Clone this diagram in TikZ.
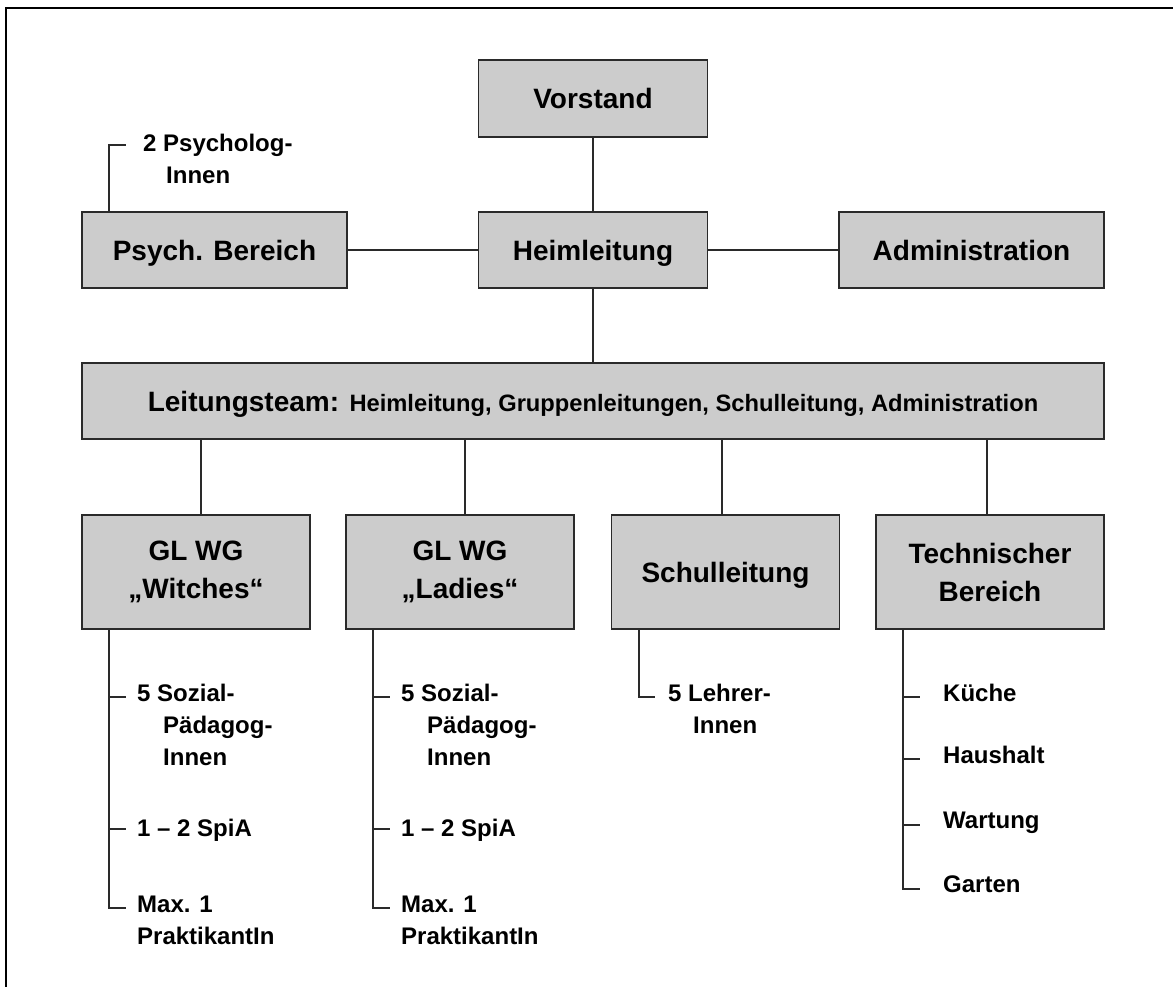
\documentclass[tikz,border=0pt]{standalone}
\usepackage{fontspec}
\setmainfont{Liberation Sans}
\definecolor{boxgray}{HTML}{CCCCCC}
\definecolor{linegray}{HTML}{2A2A2A}
\begin{document}
\begin{tikzpicture}[x=1pt,y=-1pt]
\tikzset{
  box/.style={draw=linegray, line width=1.8pt, fill=boxgray, inner sep=0pt,
    font=\bfseries\fontsize{28}{38}\selectfont, align=center},
  oneline/.style={text height=26pt, text depth=6pt},
  conn/.style={draw=linegray, line width=1.5pt},
  sub/.style={anchor=north west, inner sep=0pt,
    font=\bfseries\fontsize{24}{32}\selectfont, align=left},
}
\useasboundingbox (0,0) rectangle (1173,986);
\fill[white] (0,0) rectangle (1173,986);
\draw[line width=2pt, black] (6,990) -- (6,8) -- (1180,8);

% boxes
\node[box, oneline, minimum width=229pt, minimum height=77pt] (vor) at (593,98.5) {Vorstand};
\node[box, oneline, minimum width=229pt, minimum height=76pt] (heim) at (593,250) {Heimleitung};
\node[box, oneline, minimum width=265pt, minimum height=76pt] (psych) at (214.5,250) {Psych. Bereich};
\node[box, oneline, minimum width=265pt, minimum height=76pt] (admin) at (971.5,250) {Administration};
\node[box, oneline, minimum width=1022pt, minimum height=76pt] (lt) at (593,401)
  {Leitungsteam: {\fontsize{23.7}{28}\selectfont Heimleitung, Gruppenleitungen, Schulleitung, Administration}};
\node[box, minimum width=228pt, minimum height=114pt] (witches) at (196,572) {GL WG\\„Witches“};
\node[box, minimum width=228pt, minimum height=114pt] (ladies) at (460,572) {GL WG\\„Ladies“};
\node[box, oneline, minimum width=228pt, minimum height=114pt] (schul) at (725.5,572) {Schulleitung};
\node[box, minimum width=228pt, minimum height=114pt] (tech) at (990,572) {Technischer\\Bereich};

% main connectors
\draw[conn] (vor.south) -- (heim.north);
\draw[conn] (psych.east) -- (heim.west);
\draw[conn] (heim.east) -- (admin.west);
\draw[conn] (heim.south) -- (lt.north);
\coordinate (cw) at (201,0);
\coordinate (cl) at (465,0);
\coordinate (cs) at (722,0);
\coordinate (ct) at (987,0);
\draw[conn] (cw |- lt.south) -- (cw |- witches.north);
\draw[conn] (cl |- lt.south) -- (cl |- ladies.north);
\draw[conn] (cs |- lt.south) -- (cs |- schul.north);
\draw[conn] (ct |- lt.south) -- (ct |- tech.north);

% Psych bracket
\coordinate (pc) at (109,145);
\coordinate (pe) at (126,145);
\draw[conn] (pc |- psych.north) -- (pc) -- (pe);
\node[sub] (psy) at (143,134) {2 Psycholog-\\\hspace*{23pt}Innen};

% Witches
\coordinate (w1) at (109,697);
\coordinate (w2) at (109,829);
\coordinate (w3) at (109,908);
\draw[conn] (w1 |- witches.south) -- (w3) -- ++(17,0);
\draw[conn] (w1) -- ++(17,0);
\draw[conn] (w2) -- ++(17,0);
\node[sub] (wa) at (137,684) {5 Sozial-\\\hspace*{26pt}Pädagog-\\\hspace*{26pt}Innen};
\node[sub] (wb) at (137,819) {1 – 2 SpiA};
\node[sub] (wc) at (137,896) {Max. 1\\PraktikantIn};

% Ladies
\coordinate (l1) at (373,697);
\coordinate (l2) at (373,829);
\coordinate (l3) at (373,908);
\draw[conn] (l1 |- ladies.south) -- (l3) -- ++(17,0);
\draw[conn] (l1) -- ++(17,0);
\draw[conn] (l2) -- ++(17,0);
\node[sub] (la) at (401,684) {5 Sozial-\\\hspace*{26pt}Pädagog-\\\hspace*{26pt}Innen};
\node[sub] (lb) at (401,819) {1 – 2 SpiA};
\node[sub] (lc) at (401,896) {Max. 1\\PraktikantIn};

% Schulleitung
\coordinate (s1) at (639,697);
\draw[conn] (s1 |- schul.south) -- (s1) -- ++(16,0);
\node[sub] (sa) at (668,684) {5 Lehrer-\\\hspace*{25pt}Innen};

% Technischer Bereich
\coordinate (t1) at (903,697);
\coordinate (t2) at (903,759);
\coordinate (t3) at (903,825);
\coordinate (t4) at (903,889);
\draw[conn] (t1 |- tech.south) -- (t4) -- ++(17,0);
\draw[conn] (t1) -- ++(17,0);
\draw[conn] (t2) -- ++(17,0);
\draw[conn] (t3) -- ++(17,0);
\node[sub] (ta) at (943,684) {Küche};
\node[sub] (tb) at (943,746) {Haushalt};
\node[sub] (tc) at (943,812) {Wartung};
\node[sub] (td) at (943,876) {Garten};
\end{tikzpicture}
\end{document}
